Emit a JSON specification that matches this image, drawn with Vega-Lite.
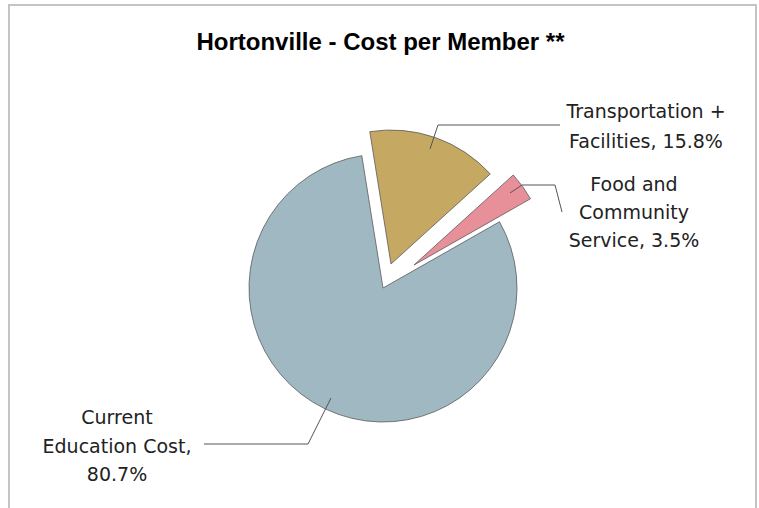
{
  "$schema": "https://vega.github.io/schema/vega-lite/v6.json",
  "width": 747,
  "height": 504,
  "autosize": {"type": "none"},
  "padding": {"left": 9, "top": 5, "right": 3, "bottom": 0},
  "background": "white",
  "view": {"stroke": "#c4c4c4", "strokeWidth": 2},
  "config": {"view": {"stroke": "#c4c4c4", "strokeWidth": 2}},
  "title": {
    "text": "Hortonville - Cost per Member **",
    "font": "Liberation Sans",
    "fontSize": 24,
    "fontWeight": "bold",
    "color": "#000000",
    "anchor": "middle",
    "dx": -2,
    "offset": -50
  },
  "data": {
    "values": [
      {"category": "Transportation + Facilities", "value": 15.8, "label": "Transportation +\nFacilities, 15.8%"},
      {"category": "Food and Community Service", "value": 3.5, "label": "Food and\nCommunity\nService, 3.5%"},
      {"category": "Current Education Cost", "value": 80.7, "label": "Current\nEducation Cost,\n80.7%"}
    ]
  },
  "transform": [
    {"stack": "value", "groupby": [], "sort": [{"field": "category", "order": "descending"}], "as": ["v0", "v1"]}
  ],
  "encoding": {
    "color": {
      "field": "category",
      "type": "nominal",
      "scale": {
        "domain": ["Transportation + Facilities", "Food and Community Service", "Current Education Cost"],
        "range": ["#c5a862", "#e8909a", "#9fb8c2"]
      },
      "legend": null
    }
  },
  "layer": [
    {
      "transform": [{"filter": "datum.category === 'Current Education Cost'"}],
      "mark": {"type": "arc", "outerRadius": 134, "stroke": "#5a5a5a", "strokeWidth": 0.8, "xOffset": 0.5, "yOffset": 31},
      "encoding": {
        "theta": {"field": "v0", "type": "quantitative", "scale": {"domain": [0, 100], "range": [-0.1588, 6.1244]}},
        "theta2": {"field": "v1"}
      }
    },
    {
      "transform": [{"filter": "datum.category === 'Transportation + Facilities'"}],
      "mark": {"type": "arc", "outerRadius": 134, "stroke": "#5a5a5a", "strokeWidth": 0.8, "xOffset": 8.5, "yOffset": 7},
      "encoding": {
        "theta": {"field": "v0", "type": "quantitative", "scale": {"domain": [0, 100], "range": [-0.1588, 6.1244]}},
        "theta2": {"field": "v1"}
      }
    },
    {
      "transform": [{"filter": "datum.category === 'Food and Community Service'"}],
      "mark": {"type": "arc", "outerRadius": 134, "stroke": "#5a5a5a", "strokeWidth": 0.8, "xOffset": 31.5, "yOffset": 8},
      "encoding": {
        "theta": {"field": "v0", "type": "quantitative", "scale": {"domain": [0, 100], "range": [-0.1588, 6.1244]}},
        "theta2": {"field": "v1"}
      }
    },
    {
      "transform": [{"filter": "datum.category === 'Transportation + Facilities'"}],
      "mark": {"type": "point", "shape": "M47.5,-108L55.5,-132L177.5,-132", "size": 4, "filled": false, "strokeWidth": 1, "opacity": 1},
      "encoding": {"color": {"value": "#555555"}}
    },
    {
      "transform": [{"filter": "datum.category === 'Food and Community Service'"}],
      "mark": {"type": "point", "shape": "M127.5,-64L139.5,-72L172.5,-72L179.5,-45", "size": 4, "filled": false, "strokeWidth": 1, "opacity": 1},
      "encoding": {"color": {"value": "#555555"}}
    },
    {
      "transform": [{"filter": "datum.category === 'Current Education Cost'"}],
      "mark": {"type": "point", "shape": "M-51.5,141L-74.5,187L-178.5,187", "size": 4, "filled": false, "strokeWidth": 1, "opacity": 1},
      "encoding": {"color": {"value": "#555555"}}
    },
    {
      "transform": [{"filter": "datum.category === 'Transportation + Facilities'"}],
      "mark": {"type": "text", "dx": 263.5, "dy": -145, "align": "center", "baseline": "middle", "font": "DejaVu Sans", "fontSize": 19, "lineHeight": 30, "lineBreak": "\n"},
      "encoding": {"text": {"field": "label"}, "color": {"value": "#222222"}}
    },
    {
      "transform": [{"filter": "datum.category === 'Food and Community Service'"}],
      "mark": {"type": "text", "dx": 251.5, "dy": -72, "align": "center", "baseline": "middle", "font": "DejaVu Sans", "fontSize": 19, "lineHeight": 28, "lineBreak": "\n"},
      "encoding": {"text": {"field": "label"}, "color": {"value": "#222222"}}
    },
    {
      "transform": [{"filter": "datum.category === 'Current Education Cost'"}],
      "mark": {"type": "text", "dx": -265.5, "dy": 161, "align": "center", "baseline": "middle", "font": "DejaVu Sans", "fontSize": 19, "lineHeight": 28.5, "lineBreak": "\n"},
      "encoding": {"text": {"field": "label"}, "color": {"value": "#222222"}}
    }
  ]
}
